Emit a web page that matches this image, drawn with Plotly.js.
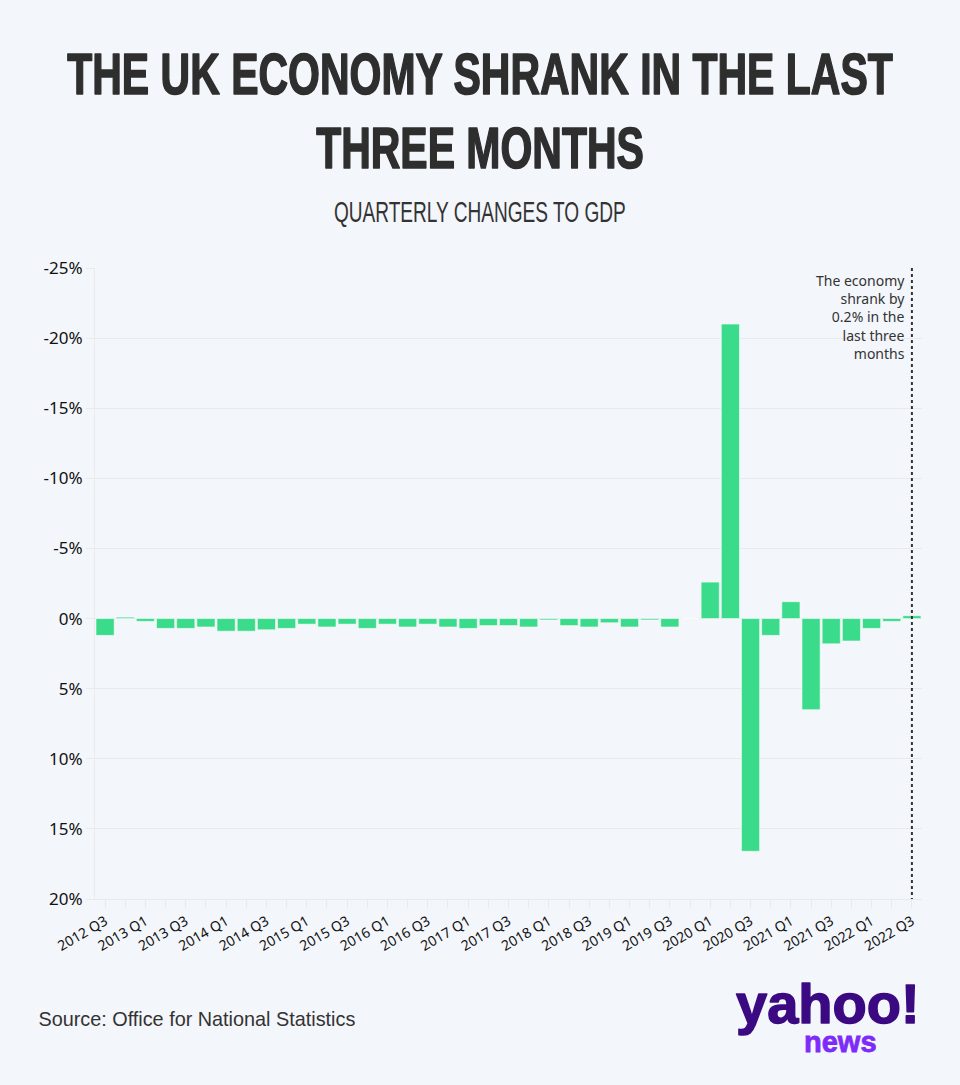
<!DOCTYPE html>
<html>
<head>
<meta charset="utf-8">
<script src="https://cdn.plot.ly/plotly-3.0.1.min.js"></script>
<style>
  html, body { margin: 0; padding: 0; background: #F3F6FA; }
  #chart { width: 960px; height: 1085px; }
</style>
</head>
<body>
<div id="chart"></div>
<script>
// Quarterly GDP change (%), 2012 Q3 – 2022 Q3 (axis drawn reversed, as in the original)
const quarters = [
  "2012 Q3","2012 Q4","2013 Q1","2013 Q2","2013 Q3","2013 Q4","2014 Q1","2014 Q2","2014 Q3","2014 Q4",
  "2015 Q1","2015 Q2","2015 Q3","2015 Q4","2016 Q1","2016 Q2","2016 Q3","2016 Q4","2017 Q1","2017 Q2",
  "2017 Q3","2017 Q4","2018 Q1","2018 Q2","2018 Q3","2018 Q4","2019 Q1","2019 Q2","2019 Q3","2019 Q4",
  "2020 Q1","2020 Q2","2020 Q3","2020 Q4","2021 Q1","2021 Q2","2021 Q3","2021 Q4","2022 Q1","2022 Q2",
  "2022 Q3"
];
const gdpChange = [
  1.2, -0.1, 0.2, 0.7, 0.7, 0.6, 0.9, 0.9, 0.8, 0.7,
  0.4, 0.6, 0.4, 0.7, 0.4, 0.6, 0.4, 0.6, 0.7, 0.5,
  0.5, 0.6, 0.1, 0.5, 0.6, 0.3, 0.6, 0.1, 0.6, 0.0,
  -2.6, -21.0, 16.6, 1.2, -1.2, 6.5, 1.8, 1.6, 0.7, 0.2,
  -0.2
];
const yTickVals = [-25, -20, -15, -10, -5, 0, 5, 10, 15, 20];
const yTickText = ["-25%", "-20%", "-15%", "-10%", "-5%", "0%", "5%", "10%", "15%", "20%"];
// every quarter gets a tick; every other one gets a label
const xTickText = quarters.map((q, i) => (i % 2 === 0 ? q : ""));

const titleText = "THE UK ECONOMY SHRANK IN THE LAST<br>THREE MONTHS";
const subtitleText = "QUARTERLY CHANGES TO GDP";
const noteText = "The economy<br>shrank by<br>0.2% in the<br>last three<br>months";
const sourceText = "Source: Office for National Statistics";
const latestQuarter = quarters[quarters.length - 1];

const BG = "#F3F6FA";
const GRID = "#E9EAEC";

const trace = {
  type: "bar",
  x: quarters,
  y: gdpChange,
  marker: { color: "#3ADB8A", line: { color: "rgba(255,255,255,0.55)", width: 1 } },
  hoverinfo: "x+y"
};

const layout = {
  width: 960,
  height: 1085,
  paper_bgcolor: BG,
  plot_bgcolor: BG,
  margin: { l: 95, r: 38, t: 268, b: 186 },
  bargap: 0.1,
  showlegend: false,
  font: { family: "Noto Sans, sans-serif", color: "#111" },
  title: {
    text: titleText,
    x: 0.5, xanchor: "center",
    y: 0.913, yanchor: "top", yref: "container",
    font: { family: "Liberation Sans Narrow, Arial Narrow, sans-serif", size: 57, weight: 700, color: "#2E2E2E" }
  },
  xaxis: {
    type: "category",
    categoryorder: "array",
    categoryarray: quarters,
    tickmode: "array",
    tickvals: quarters,
    ticktext: xTickText,
    tickangle: -30,
    ticks: "outside",
    ticklen: 8,
    tickcolor: GRID,
    showgrid: false,
    showline: true,
    linecolor: GRID,
    linewidth: 1,
    tickfont: { family: "Noto Sans, sans-serif", size: 14, color: "#111" },
    fixedrange: true
  },
  yaxis: {
    range: [20, -25],
    tickmode: "array",
    tickvals: yTickVals,
    ticktext: yTickText,
    ticks: "outside",
    ticklen: 8,
    tickcolor: GRID,
    showgrid: true,
    gridcolor: GRID,
    gridwidth: 1,
    zeroline: true,
    zerolinecolor: GRID,
    zerolinewidth: 1,
    showline: true,
    linecolor: GRID,
    tickfont: { family: "Noto Sans, sans-serif", size: 17, color: "#111" },
    fixedrange: true
  },
  shapes: [
    {
      type: "line", xref: "x", yref: "y",
      x0: latestQuarter, x1: latestQuarter, y0: -25, y1: 20,
      line: { color: "#333", width: 2, dash: "dot" }
    }
  ],
  annotations: [
    {
      text: subtitleText,
      xref: "paper", yref: "paper",
      x: 0.4655, xanchor: "center",
      y: 1 + (268 - 212) / 631, yanchor: "middle",
      showarrow: false,
      font: { family: "Liberation Sans Narrow, Arial Narrow, sans-serif", size: 29, color: "#333" }
    },
    {
      text: noteText,
      xref: "x", yref: "y",
      x: latestQuarter, xanchor: "right", xshift: -5,
      y: -25, yanchor: "top", yshift: -1,
      align: "right",
      showarrow: false,
      font: { family: "Noto Sans, sans-serif", size: 14, color: "#333" }
    },
    {
      text: sourceText,
      xref: "paper", yref: "paper",
      x: (35 - 95) / 827, xanchor: "left",
      y: -(1019 - 899) / 631, yanchor: "middle",
      showarrow: false,
      font: { family: "Liberation Sans Narrow, Arial Narrow, sans-serif", size: 20, color: "#333" }
    },
    {
      text: "<b>yahoo!</b>",
      xref: "paper", yref: "paper",
      x: (828 - 95) / 827, xanchor: "center",
      y: -(1003 - 899) / 631, yanchor: "middle",
      showarrow: false,
      font: { family: "Liberation Sans, Arial, sans-serif", size: 56, weight: 700, color: "#3B0A82" }
    },
    {
      text: "<b>news</b>",
      xref: "paper", yref: "paper",
      x: (840 - 95) / 827, xanchor: "center",
      y: -(1042 - 899) / 631, yanchor: "middle",
      showarrow: false,
      font: { family: "Liberation Sans, Arial, sans-serif", size: 29, weight: 700, color: "#7E2BFA" }
    }
  ]
};

function squeeze(el, targetW, strokeW, strokeColor) {
  if (!el) return;
  el.removeAttribute("transform");
  const bb = el.getBBox();
  if (!bb.width) return;
  const s = targetW / bb.width;
  const cx = bb.x + bb.width / 2;
  el.setAttribute("transform", `translate(${cx},0) scale(${s},1) translate(${-cx},0)`);
  if (strokeW) {
    el.style.stroke = strokeColor;
    el.style.strokeWidth = strokeW + "px";
    el.style.strokeLinejoin = "round";
  }
}

function findText(selector, content) {
  const els = document.querySelectorAll(selector);
  for (const e of els) {
    if (e.textContent.indexOf(content) !== -1) return e;
  }
  return null;
}

Plotly.newPlot("chart", [trace], layout, { displayModeBar: false, staticPlot: true }).then(() => {
  squeeze(document.querySelector(".gtitle"), 826, 1.6, "#2E2E2E");
  squeeze(findText(".annotation-text", "QUARTERLY"), 292);
  squeeze(findText(".annotation-text", "Source:"), 317);
  const y = findText(".annotation-text", "yahoo!");
  if (y) { y.style.stroke = "#3B0A82"; y.style.strokeWidth = "1.5px"; y.style.strokeLinejoin = "round"; }
  const n = findText(".annotation-text", "news");
  if (n) { n.style.stroke = "#7E2BFA"; n.style.strokeWidth = "0.8px"; }
});
</script>
</body>
</html>
